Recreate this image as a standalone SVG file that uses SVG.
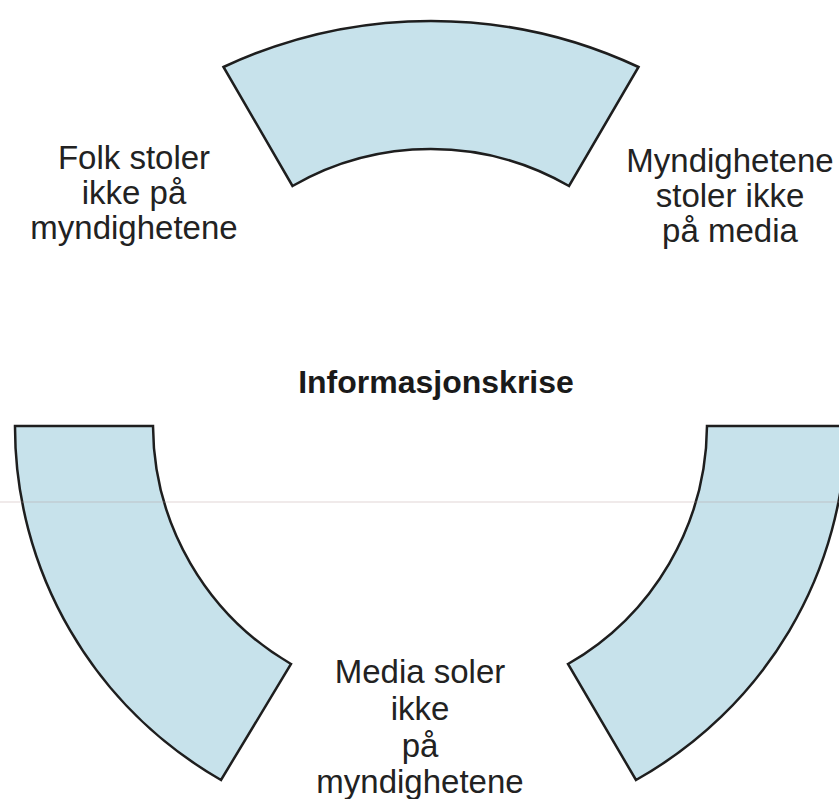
<svg xmlns="http://www.w3.org/2000/svg" width="839" height="799" viewBox="0 0 839 799">
  <style>
    .seg { fill: #c7e2eb; stroke: #1e1e1e; stroke-width: 2.5; stroke-linejoin: miter; }
    .lbl { font-family: "Liberation Sans", Arial, sans-serif; font-size: 33px; fill: #222; text-anchor: middle; }
    .title { font-family: "Liberation Sans", Arial, sans-serif; font-size: 32px; font-weight: bold; fill: #1a1a1a; text-anchor: middle; }
  </style>
  <rect width="839" height="799" fill="#ffffff"/>

  <!-- ring segments around a common centre (431, 426) -->
  <g id="segment-top">
    <path class="seg" d="M 223.5 67 A 490 490 0 0 1 638.5 67 L 569 186 A 277 277 0 0 0 292.5 186 Z"/>
  </g>
  <g id="segment-bottom-left">
    <path class="seg" d="M 15 426 L 153 426 A 277 277 0 0 0 291 664 L 221 780 A 415 409 0 0 1 15 426 Z"/>
  </g>
  <g id="segment-bottom-right">
    <path class="seg" d="M 707 426 L 846 426 A 415 409 0 0 1 636 780 L 568 664 A 277 277 0 0 0 707 426 Z"/>
  </g>

  <!-- faint horizontal scan line -->
  <line x1="0" y1="502" x2="839" y2="502" stroke="#b49494" stroke-opacity="0.25" stroke-width="1.5"/>

  <g id="label-folk">
    <text class="lbl" x="134" y="169">Folk stoler</text>
    <text class="lbl" x="134" y="204">ikke på</text>
    <text class="lbl" x="134" y="239">myndighetene</text>
  </g>
  <g id="label-myndighetene">
    <text class="lbl" x="730" y="172">Myndighetene</text>
    <text class="lbl" x="730" y="207">stoler ikke</text>
    <text class="lbl" x="730" y="242">på media</text>
  </g>
  <g id="label-center">
    <text class="title" x="436" y="393">Informasjonskrise</text>
  </g>
  <g id="label-media">
    <text class="lbl" x="420" y="683">Media soler</text>
    <text class="lbl" x="420" y="720">ikke</text>
    <text class="lbl" x="420" y="757">på</text>
    <text class="lbl" x="420" y="793">myndighetene</text>
  </g>
</svg>
